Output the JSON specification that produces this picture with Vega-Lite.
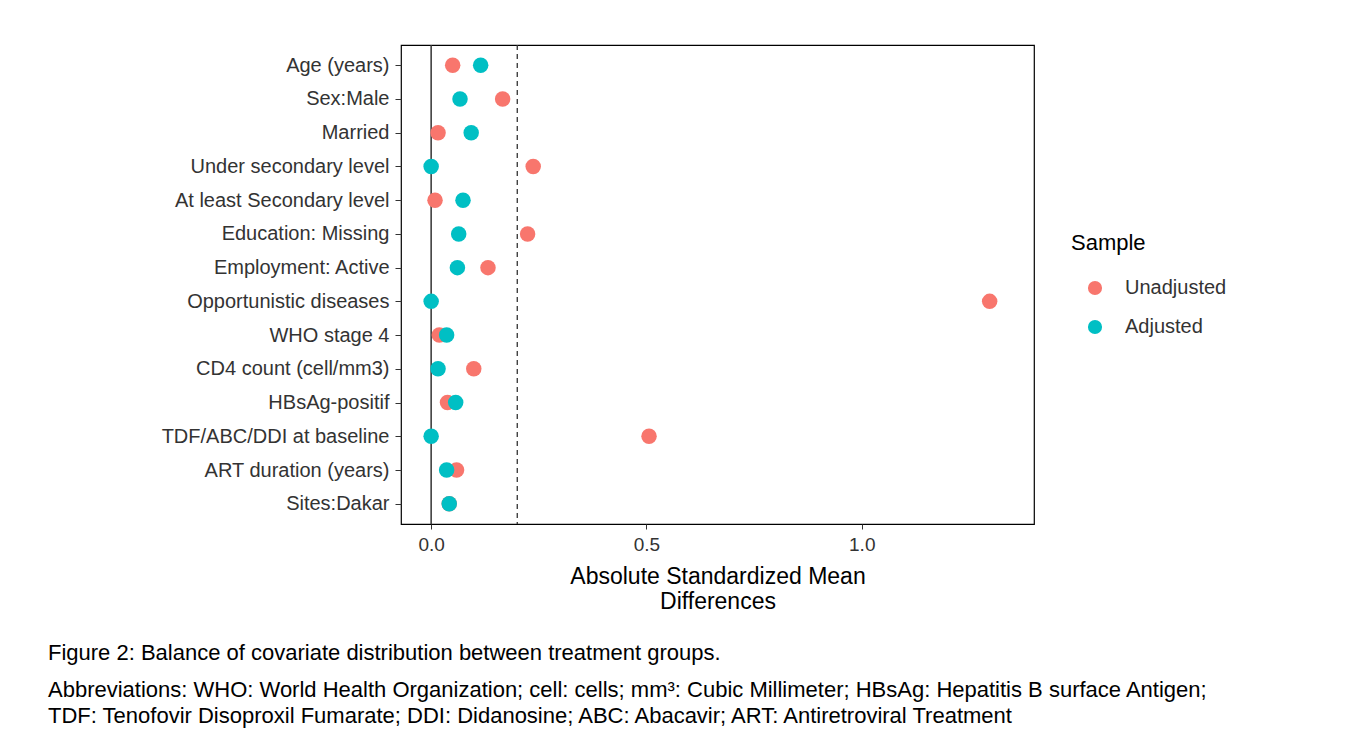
{
  "$schema": "https://vega.github.io/schema/vega-lite/v6.json",
  "width": 633,
  "height": 479,
  "autosize": {"type": "none"},
  "padding": {"left": 401, "top": 45, "right": 326, "bottom": 214},
  "background": "white",
  "title": {
    "text": "Figure 2: Balance of covariate distribution between treatment groups.",
    "subtitle": [
      "Abbreviations: WHO: World Health Organization; cell: cells; mm³: Cubic Millimeter; HBsAg: Hepatitis B surface Antigen;",
      "TDF: Tenofovir Disoproxil Fumarate; DDI: Didanosine; ABC: Abacavir; ART: Antiretroviral Treatment"
    ],
    "orient": "bottom",
    "anchor": "start",
    "frame": "group",
    "dx": -353,
    "offset": 30
  },
  "config": {
    "font": "Liberation Sans",
    "view": {"stroke": "#000", "strokeWidth": 1.2},
    "title": {
      "font": "Liberation Sans",
      "fontSize": 22,
      "fontWeight": "normal",
      "color": "#000",
      "subtitleFont": "Liberation Sans",
      "subtitleFontSize": 22,
      "subtitleColor": "#000",
      "subtitleLineHeight": 26,
      "subtitlePadding": 15
    }
  },
  "datasets": {
    "smd": [
      {"covariate": "Age (years)", "sample": "Unadjusted", "value": 0.050},
      {"covariate": "Sex:Male", "sample": "Unadjusted", "value": 0.166},
      {"covariate": "Married", "sample": "Unadjusted", "value": 0.016},
      {"covariate": "Under secondary level", "sample": "Unadjusted", "value": 0.237},
      {"covariate": "At least Secondary level", "sample": "Unadjusted", "value": 0.009},
      {"covariate": "Education: Missing", "sample": "Unadjusted", "value": 0.224},
      {"covariate": "Employment: Active", "sample": "Unadjusted", "value": 0.132},
      {"covariate": "Opportunistic diseases", "sample": "Unadjusted", "value": 1.297},
      {"covariate": "WHO stage 4", "sample": "Unadjusted", "value": 0.019},
      {"covariate": "CD4 count (cell/mm3)", "sample": "Unadjusted", "value": 0.099},
      {"covariate": "HBsAg-positif", "sample": "Unadjusted", "value": 0.038},
      {"covariate": "TDF/ABC/DDI at baseline", "sample": "Unadjusted", "value": 0.506},
      {"covariate": "ART duration (years)", "sample": "Unadjusted", "value": 0.059},
      {"covariate": "Sites:Dakar", "sample": "Unadjusted", "value": 0.042},
      {"covariate": "Age (years)", "sample": "Adjusted", "value": 0.115},
      {"covariate": "Sex:Male", "sample": "Adjusted", "value": 0.067},
      {"covariate": "Married", "sample": "Adjusted", "value": 0.093},
      {"covariate": "Under secondary level", "sample": "Adjusted", "value": 0.0},
      {"covariate": "At least Secondary level", "sample": "Adjusted", "value": 0.074},
      {"covariate": "Education: Missing", "sample": "Adjusted", "value": 0.064},
      {"covariate": "Employment: Active", "sample": "Adjusted", "value": 0.061},
      {"covariate": "Opportunistic diseases", "sample": "Adjusted", "value": 0.0},
      {"covariate": "WHO stage 4", "sample": "Adjusted", "value": 0.036},
      {"covariate": "CD4 count (cell/mm3)", "sample": "Adjusted", "value": 0.016},
      {"covariate": "HBsAg-positif", "sample": "Adjusted", "value": 0.057},
      {"covariate": "TDF/ABC/DDI at baseline", "sample": "Adjusted", "value": 0.0},
      {"covariate": "ART duration (years)", "sample": "Adjusted", "value": 0.036},
      {"covariate": "Sites:Dakar", "sample": "Adjusted", "value": 0.042}
    ]
  },
  "layer": [
    {
      "data": {"values": [{"value": 0}]},
      "mark": {"type": "rule", "color": "#333", "strokeWidth": 1.5},
      "encoding": {
        "x": {
          "field": "value",
          "type": "quantitative",
          "scale": {"domain": [-0.07, 1.4], "nice": false, "zero": false},
          "axis": {
            "title": ["Absolute Standardized Mean", "Differences"],
            "values": [0, 0.5, 1.0],
            "format": ".1f",
            "grid": false,
            "domain": false,
            "tickColor": "#333",
            "tickSize": 5,
            "labelFont": "Liberation Sans",
            "labelFontSize": 19,
            "labelColor": "#333",
            "labelPadding": 6,
            "titleFont": "Liberation Sans",
            "titleFontSize": 23,
            "titleFontWeight": "normal",
            "titleColor": "#000",
            "titleLineHeight": 25,
            "titlePadding": 11
          }
        }
      }
    },
    {
      "data": {"values": [{"value": 0.2}]},
      "mark": {"type": "rule", "color": "#333", "strokeWidth": 1.3, "strokeDash": [5, 4]},
      "encoding": {
        "x": {"field": "value", "type": "quantitative"}
      }
    },
    {
      "data": {"name": "smd"},
      "mark": {"type": "circle", "size": 240, "opacity": 1},
      "encoding": {
        "x": {"field": "value", "type": "quantitative"},
        "y": {
          "field": "covariate",
          "type": "nominal",
          "sort": null,
          "scale": {"type": "point", "padding": 0.6},
          "axis": {
            "title": null,
            "grid": false,
            "domain": false,
            "tickColor": "#333",
            "tickSize": 6,
            "labelFont": "Liberation Sans",
            "labelFontSize": 20,
            "labelColor": "#333",
            "labelPadding": 6,
            "labelLimit": 400
          }
        },
        "color": {
          "field": "sample",
          "type": "nominal",
          "scale": {"domain": ["Unadjusted", "Adjusted"], "range": ["#F8766D", "#00BFC4"]},
          "legend": {
            "title": "Sample",
            "orient": "none",
            "legendX": 670,
            "legendY": 188,
            "titleFont": "Liberation Sans",
            "titleFontSize": 22,
            "titleFontWeight": "normal",
            "titleColor": "#000",
            "titlePadding": 23,
            "labelFont": "Liberation Sans",
            "labelFontSize": 20,
            "labelColor": "#333",
            "symbolType": "circle",
            "symbolSize": 200,
            "symbolStrokeWidth": 0,
            "symbolOpacity": 1,
            "symbolOffset": 14,
            "labelOffset": 20,
            "rowPadding": 19
          }
        }
      }
    }
  ]
}
